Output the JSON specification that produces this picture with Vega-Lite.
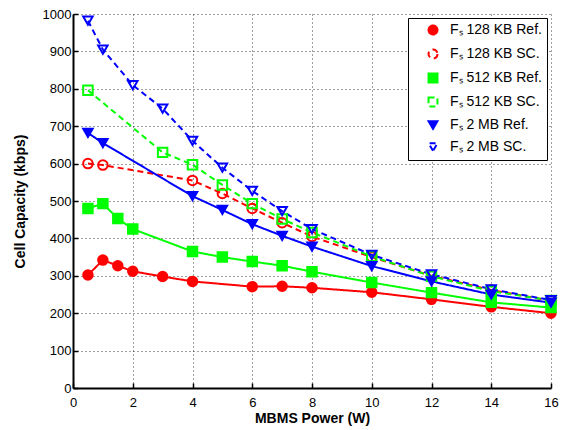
{
  "$schema": "https://vega.github.io/schema/vega-lite/v6.json",
  "width": 478,
  "height": 374,
  "autosize": {"type": "none"},
  "padding": {"left": 73, "top": 14, "right": 23, "bottom": 42},
  "background": "white",
  "config": {
    "font": "Liberation Sans",
    "view": {"stroke": null},
    "axis": {
      "domainColor": "black",
      "domainWidth": 2,
      "tickColor": "black",
      "tickWidth": 1.5,
      "tickSize": -5,
      "labelColor": "black",
      "labelFont": "Liberation Sans",
      "labelFontSize": 13,
      "titleColor": "black",
      "titleFont": "Liberation Sans",
      "titleFontSize": 14,
      "titleFontWeight": "bold",
      "gridColor": "black",
      "gridDash": [1, 3],
      "gridWidth": 1,
      "gridOpacity": 0.75
    },
    "legend": {
      "orient": "top-right",
      "offset": 4,
      "padding": 5,
      "symbolOffset": 13,
      "labelOffset": 10,
      "labelFont": "Liberation Sans",
      "labelFontSize": 14,
      "labelColor": "black",
      "rowPadding": 6,
      "symbolSize": 80,
      "symbolStrokeWidth": 2,
      "symbolDash": [1, 0],
      "fillColor": "white",
      "strokeColor": "black"
    }
  },
  "data": {
    "values": [
      {"series": "Fₛ 128 KB Ref.", "p": 0.5, "c": 302},
      {"series": "Fₛ 128 KB Ref.", "p": 1, "c": 342},
      {"series": "Fₛ 128 KB Ref.", "p": 1.5, "c": 327},
      {"series": "Fₛ 128 KB Ref.", "p": 2, "c": 312},
      {"series": "Fₛ 128 KB Ref.", "p": 3, "c": 298},
      {"series": "Fₛ 128 KB Ref.", "p": 4, "c": 285},
      {"series": "Fₛ 128 KB Ref.", "p": 6, "c": 271},
      {"series": "Fₛ 128 KB Ref.", "p": 7, "c": 272},
      {"series": "Fₛ 128 KB Ref.", "p": 8, "c": 268},
      {"series": "Fₛ 128 KB Ref.", "p": 10, "c": 256},
      {"series": "Fₛ 128 KB Ref.", "p": 12, "c": 237},
      {"series": "Fₛ 128 KB Ref.", "p": 14, "c": 217},
      {"series": "Fₛ 128 KB Ref.", "p": 16, "c": 200},
      {"series": "Fₛ 128 KB SC.", "p": 0.5, "c": 600},
      {"series": "Fₛ 128 KB SC.", "p": 1, "c": 596},
      {"series": "Fₛ 128 KB SC.", "p": 4, "c": 555},
      {"series": "Fₛ 128 KB SC.", "p": 5, "c": 520},
      {"series": "Fₛ 128 KB SC.", "p": 6, "c": 480},
      {"series": "Fₛ 128 KB SC.", "p": 7, "c": 442},
      {"series": "Fₛ 128 KB SC.", "p": 8, "c": 405},
      {"series": "Fₛ 128 KB SC.", "p": 10, "c": 350},
      {"series": "Fₛ 128 KB SC.", "p": 12, "c": 300},
      {"series": "Fₛ 128 KB SC.", "p": 14, "c": 262},
      {"series": "Fₛ 128 KB SC.", "p": 16, "c": 233},
      {"series": "Fₛ 512 KB Ref.", "p": 0.5, "c": 480},
      {"series": "Fₛ 512 KB Ref.", "p": 1, "c": 493},
      {"series": "Fₛ 512 KB Ref.", "p": 1.5, "c": 453},
      {"series": "Fₛ 512 KB Ref.", "p": 2, "c": 425},
      {"series": "Fₛ 512 KB Ref.", "p": 4, "c": 365},
      {"series": "Fₛ 512 KB Ref.", "p": 5, "c": 350},
      {"series": "Fₛ 512 KB Ref.", "p": 6, "c": 338},
      {"series": "Fₛ 512 KB Ref.", "p": 7, "c": 327},
      {"series": "Fₛ 512 KB Ref.", "p": 8, "c": 311},
      {"series": "Fₛ 512 KB Ref.", "p": 10, "c": 282},
      {"series": "Fₛ 512 KB Ref.", "p": 12, "c": 255},
      {"series": "Fₛ 512 KB Ref.", "p": 14, "c": 229},
      {"series": "Fₛ 512 KB Ref.", "p": 16, "c": 215},
      {"series": "Fₛ 512 KB SC.", "p": 0.5, "c": 796},
      {"series": "Fₛ 512 KB SC.", "p": 3, "c": 630},
      {"series": "Fₛ 512 KB SC.", "p": 4, "c": 597},
      {"series": "Fₛ 512 KB SC.", "p": 5, "c": 543},
      {"series": "Fₛ 512 KB SC.", "p": 6, "c": 493},
      {"series": "Fₛ 512 KB SC.", "p": 7, "c": 452},
      {"series": "Fₛ 512 KB SC.", "p": 8, "c": 416},
      {"series": "Fₛ 512 KB SC.", "p": 10, "c": 352},
      {"series": "Fₛ 512 KB SC.", "p": 12, "c": 299},
      {"series": "Fₛ 512 KB SC.", "p": 14, "c": 259},
      {"series": "Fₛ 512 KB SC.", "p": 16, "c": 234},
      {"series": "Fₛ 2 MB Ref.", "p": 0.5, "c": 682},
      {"series": "Fₛ 2 MB Ref.", "p": 1, "c": 655},
      {"series": "Fₛ 2 MB Ref.", "p": 4, "c": 513},
      {"series": "Fₛ 2 MB Ref.", "p": 5, "c": 476},
      {"series": "Fₛ 2 MB Ref.", "p": 6, "c": 438},
      {"series": "Fₛ 2 MB Ref.", "p": 7, "c": 407},
      {"series": "Fₛ 2 MB Ref.", "p": 8, "c": 378},
      {"series": "Fₛ 2 MB Ref.", "p": 10, "c": 326},
      {"series": "Fₛ 2 MB Ref.", "p": 12, "c": 285},
      {"series": "Fₛ 2 MB Ref.", "p": 14, "c": 250},
      {"series": "Fₛ 2 MB Ref.", "p": 16, "c": 228},
      {"series": "Fₛ 2 MB SC.", "p": 0.5, "c": 982},
      {"series": "Fₛ 2 MB SC.", "p": 1, "c": 905},
      {"series": "Fₛ 2 MB SC.", "p": 2, "c": 810},
      {"series": "Fₛ 2 MB SC.", "p": 3, "c": 747},
      {"series": "Fₛ 2 MB SC.", "p": 4, "c": 661},
      {"series": "Fₛ 2 MB SC.", "p": 5, "c": 589},
      {"series": "Fₛ 2 MB SC.", "p": 6, "c": 527},
      {"series": "Fₛ 2 MB SC.", "p": 7, "c": 473},
      {"series": "Fₛ 2 MB SC.", "p": 8, "c": 425},
      {"series": "Fₛ 2 MB SC.", "p": 10, "c": 356},
      {"series": "Fₛ 2 MB SC.", "p": 12, "c": 304},
      {"series": "Fₛ 2 MB SC.", "p": 14, "c": 264},
      {"series": "Fₛ 2 MB SC.", "p": 16, "c": 235}
    ]
  },
  "encoding": {
    "x": {
      "field": "p",
      "type": "quantitative",
      "title": "MBMS Power (W)",
      "scale": {"domain": [0, 16], "nice": false},
      "axis": {"values": [0, 2, 4, 6, 8, 10, 12, 14, 16], "format": "d", "labelPadding": 13, "titlePadding": 2, "labelFlush": false}
    },
    "y": {
      "field": "c",
      "type": "quantitative",
      "title": "Cell Capacity (kbps)",
      "scale": {"domain": [0, 1000], "nice": false},
      "axis": {"values": [0, 100, 200, 300, 400, 500, 600, 700, 800, 900, 1000], "format": "d", "labelPadding": 7, "titlePadding": 15, "labelFlush": false}
    }
  },
  "layer": [
    {
      "mark": {"type": "line", "strokeWidth": 2},
      "encoding": {
        "stroke": {
          "field": "series",
          "type": "nominal",
          "scale": {
            "domain": ["Fₛ 128 KB Ref.", "Fₛ 128 KB SC.", "Fₛ 512 KB Ref.", "Fₛ 512 KB SC.", "Fₛ 2 MB Ref.", "Fₛ 2 MB SC."],
            "range": ["#ff0000", "#ff0000", "#00ff00", "#00ff00", "#0000ff", "#0000ff"]
          },
          "legend": {"title": null}
        },
        "strokeDash": {
          "field": "series",
          "type": "nominal",
          "scale": {
            "domain": ["Fₛ 128 KB Ref.", "Fₛ 128 KB SC.", "Fₛ 512 KB Ref.", "Fₛ 512 KB SC.", "Fₛ 2 MB Ref.", "Fₛ 2 MB SC."],
            "range": [[1, 0], [6, 4], [1, 0], [6, 4], [1, 0], [6, 4]]
          },
          "legend": null
        }
      }
    },
    {
      "mark": {"type": "point", "strokeWidth": 2, "opacity": 1, "size": 90},
      "encoding": {
        "stroke": {
          "field": "series",
          "type": "nominal",
          "scale": {
            "domain": ["Fₛ 128 KB Ref.", "Fₛ 128 KB SC.", "Fₛ 512 KB Ref.", "Fₛ 512 KB SC.", "Fₛ 2 MB Ref.", "Fₛ 2 MB SC."],
            "range": ["#ff0000", "#ff0000", "#00ff00", "#00ff00", "#0000ff", "#0000ff"]
          },
          "legend": {"title": null}
        },
        "fill": {
          "field": "series",
          "type": "nominal",
          "scale": {
            "domain": ["Fₛ 128 KB Ref.", "Fₛ 128 KB SC.", "Fₛ 512 KB Ref.", "Fₛ 512 KB SC.", "Fₛ 2 MB Ref.", "Fₛ 2 MB SC."],
            "range": ["#ff0000", "transparent", "#00ff00", "transparent", "#0000ff", "transparent"]
          },
          "legend": {"title": null}
        },
        "shape": {
          "field": "series",
          "type": "nominal",
          "scale": {
            "domain": ["Fₛ 128 KB Ref.", "Fₛ 128 KB SC.", "Fₛ 512 KB Ref.", "Fₛ 512 KB SC.", "Fₛ 2 MB Ref.", "Fₛ 2 MB SC."],
            "range": ["circle", "circle", "square", "square", "triangle-down", "triangle-down"]
          },
          "legend": {"title": null}
        }
      }
    }
  ]
}
